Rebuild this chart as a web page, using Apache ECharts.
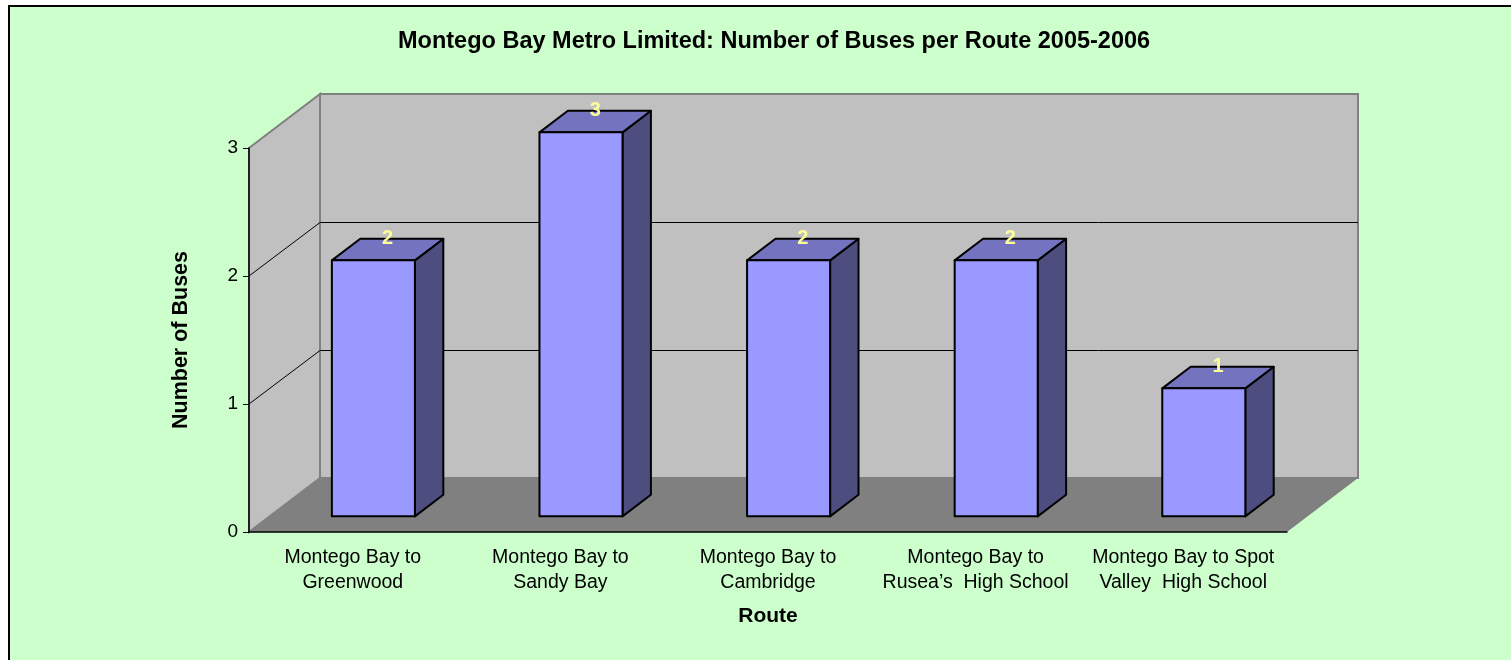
<!DOCTYPE html>
<html>
<head>
<meta charset="utf-8">
<title>Montego Bay Metro Limited</title>
<script src="https://cdn.jsdelivr.net/npm/echarts@6/dist/echarts.min.js"></script>
<style>
	html, body { margin: 0; padding: 0; background: #fff; }
	#chart { width: 1511px; height: 660px; }
</style>
</head>
<body>
<div id="chart"></div>
<script>
const routes = [
	'Montego Bay to\nGreenwood',
	'Montego Bay to\nSandy Bay',
	'Montego Bay to\nCambridge',
	'Montego Bay to\nRusea\u2019s  High School',
	'Montego Bay to Spot\nValley  High School'
];
const buses = [2, 3, 2, 2, 1];
const yTicks = [0, 1, 2, 3];

document.addEventListener('DOMContentLoaded', () => {
	const font = 'Arial, "Liberation Sans", sans-serif';
	/* depth of the 3d box in px */
	const DX = 71, DY = -54;
	/* where the bars sit inside the depth */
	const FRONT = 0.29, BACK = 0.69;

	const chart = echarts.init(document.querySelector('#chart'));

	/* back wall, side wall, floor and gridlines */
	const drawWalls = (params, api) => {
		const cs = params.coordSys;
		const x0 = cs.x, x1 = cs.x + cs.width;
		const yt = cs.y, yb = cs.y + cs.height;
		const children = [
			{
				type: 'polygon',
				shape: { points: [[x0, yt], [x0 + DX, yt + DY], [x0 + DX, yb + DY], [x0, yb]] },
				style: { fill: '#c0c0c0', stroke: '#808080', lineWidth: 2 }
			},
			{
				type: 'rect',
				shape: { x: x0 + DX, y: yt + DY, width: cs.width, height: cs.height },
				style: { fill: '#c0c0c0', stroke: '#808080', lineWidth: 2 }
			},
			{
				type: 'polygon',
				shape: { points: [[x0, yb], [x1, yb], [x1 + DX, yb + DY], [x0 + DX, yb + DY]] },
				style: { fill: '#808080' }
			}
		];
		yTicks.slice(1, -1).forEach(v => {
			const yf = api.coord([0, v])[1];
			const yw = Math.round(yf + DY) + 0.5;
			children.push({
				type: 'polyline',
				shape: { points: [[x0, yf], [x0 + DX, yw], [x1 + DX, yw]] },
				style: { stroke: '#000', lineWidth: 1, fill: null }
			});
		});
		return { type: 'group', children };
	};

	/* one 3d column */
	const drawBar = (params, api) => {
		const i = api.value(0);
		const val = api.value(1);
		const base = api.coord([i, 0]);
		const top = api.coord([i, val]);
		const w = api.size([1, 0])[0] * 0.4;
		const fx = base[0] + DX * FRONT - w / 2;
		const by = base[1] + DY * FRONT;
		const ty = top[1] + DY * FRONT;
		const dx = DX * (BACK - FRONT), dy = DY * (BACK - FRONT);
		const edge = { stroke: '#000', lineWidth: 2, lineJoin: 'round' };
		return {
			type: 'group',
			children: [
				{
					type: 'polygon',
					shape: { points: [[fx + w, ty], [fx + w + dx, ty + dy], [fx + w + dx, by + dy], [fx + w, by]] },
					style: Object.assign({ fill: '#4d4d80' }, edge)
				},
				{
					type: 'polygon',
					shape: { points: [[fx, ty], [fx + w, ty], [fx + w + dx, ty + dy], [fx + dx, ty + dy]] },
					style: Object.assign({ fill: '#7373bf' }, edge)
				},
				{
					type: 'rect',
					shape: { x: fx, y: ty, width: w, height: by - ty },
					style: Object.assign({ fill: '#9999ff' }, edge)
				},
				{
					type: 'text',
					style: {
						text: String(val),
						x: fx + w / 2 + dx / 2,
						y: ty + dy,
						fill: '#ffff99',
						fontFamily: font,
						fontWeight: 'bold',
						fontSize: 20,
						align: 'center',
						verticalAlign: 'middle'
					}
				}
			]
		};
	};

	chart.setOption({
		backgroundColor: '#ffffff',
		animation: false,
		textStyle: { fontFamily: font },
		graphic: [
			{
				type: 'rect',
				z: -10,
				shape: { x: 9, y: 6, width: 1560, height: 720 },
				style: { fill: '#ccffcc', stroke: '#000', lineWidth: 2 }
			}
		],
		title: {
			text: 'Montego Bay Metro Limited: Number of Buses per Route 2005-2006',
			left: 393,
			top: 25,
			textStyle: { fontFamily: font, fontSize: 23.5, fontWeight: 'bold', color: '#000' }
		},
		grid: {
			left: 249,
			top: 148,
			width: 1038,
			height: 384
		},
		xAxis: {
			type: 'category',
			data: routes,
			z: 5,
			axisLine: { lineStyle: { color: '#000', width: 1.5 } },
			axisTick: { length: 8, lineStyle: { color: '#000' } },
			axisLabel: { interval: 0, margin: 13, fontSize: 19.5, lineHeight: 25, color: '#000', fontFamily: font },
			name: 'Route',
			nameLocation: 'middle',
			nameGap: 74,
			nameTextStyle: { fontSize: 21, fontWeight: 'bold', color: '#000', fontFamily: font }
		},
		yAxis: {
			type: 'value',
			min: 0,
			max: 3,
			interval: 1,
			z: 5,
			splitLine: { show: false },
			axisLine: { show: true, lineStyle: { color: '#000', width: 1.5 } },
			axisTick: { show: true, length: 6, lineStyle: { color: '#000' } },
			axisLabel: { margin: 11, fontSize: 19, color: '#000', fontFamily: font },
			name: 'Number of Buses',
			nameLocation: 'middle',
			nameRotate: 90,
			nameGap: 57,
			nameTextStyle: { fontSize: 21.5, fontWeight: 'bold', color: '#000', fontFamily: font }
		},
		series: [
			{
				type: 'custom',
				name: 'walls',
				silent: true,
				z: 1,
				renderItem: drawWalls,
				data: [[0, 0]]
			},
			{
				type: 'custom',
				name: 'Number of Buses',
				z: 3,
				renderItem: drawBar,
				encode: { x: 0, y: 1 },
				data: buses.map((v, i) => [i, v])
			}
		]
	});
});
</script>
</body>
</html>
